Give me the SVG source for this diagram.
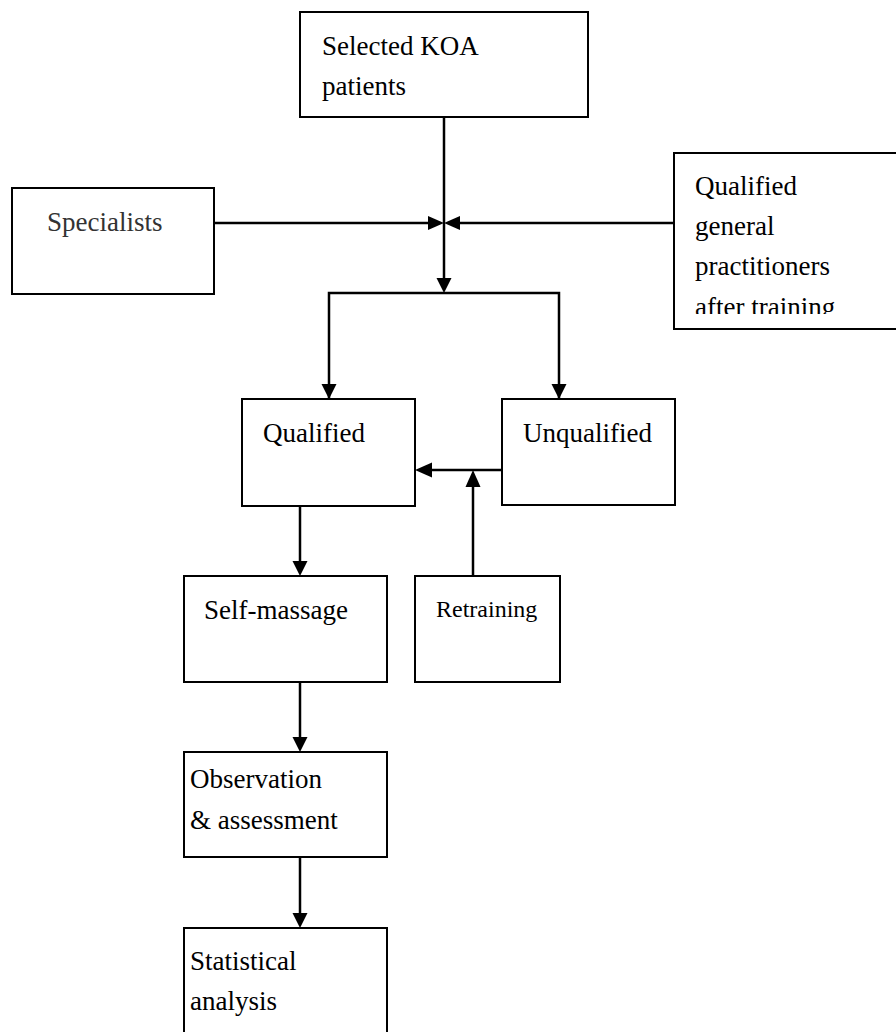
<svg xmlns="http://www.w3.org/2000/svg" width="896" height="1032" viewBox="0 0 896 1032">
<style>
.box{fill:#fff;stroke:#000;stroke-width:2}
.t{font-family:"Liberation Serif","Times New Roman",serif;font-size:27px;fill:#000}
.ln{stroke:#000;stroke-width:2.5;fill:none}
.ah{fill:#000}
</style>
<defs>
<clipPath id="clipGP"><rect x="674" y="153" width="230" height="161"/></clipPath>
</defs>
<rect width="896" height="1032" fill="#fff"/>
<g id="connectors">
<line class="ln" x1="444" y1="117" x2="444" y2="280"/>
<line class="ln" x1="214" y1="223" x2="430" y2="223"/>
<line class="ln" x1="674" y1="223" x2="458" y2="223"/>
<polygon class="ah" points="444,223 428,216 428,230"/>
<polygon class="ah" points="444,223 460,216 460,230"/>
<polygon class="ah" points="444,293 436.5,278 451.5,278"/>
<polyline class="ln" points="329,399 329,293 559,293 559,399"/>
<polygon class="ah" points="329,399 321.5,384 336.5,384"/>
<polygon class="ah" points="559,399 551.5,384 566.5,384"/>
<line class="ln" x1="502" y1="470" x2="430" y2="470"/>
<polygon class="ah" points="415,470 432,462.5 432,477.5"/>
<line class="ln" x1="473" y1="576" x2="473" y2="485"/>
<polygon class="ah" points="473,470 465.5,487 480.5,487"/>
<line class="ln" x1="300" y1="506" x2="300" y2="562"/>
<polygon class="ah" points="300,576 292.5,561 307.5,561"/>
<line class="ln" x1="300" y1="682" x2="300" y2="738"/>
<polygon class="ah" points="300,752 292.5,737 307.5,737"/>
<line class="ln" x1="300" y1="857" x2="300" y2="914"/>
<polygon class="ah" points="300,928 292.5,913 307.5,913"/>
</g>
<g id="koa">
<rect class="box" x="300" y="12" width="288" height="105"/>
<text class="t" x="322" y="55">Selected KOA</text>
<text class="t" x="322" y="95">patients</text>
</g>
<g id="specialists">
<rect class="box" x="12" y="188" width="202" height="106"/>
<text class="t" x="47" y="231" fill="#333" style="fill:#333">Specialists</text>
</g>
<g id="gp">
<rect class="box" x="674" y="153" width="230" height="176"/>
<g clip-path="url(#clipGP)">
<text class="t" x="695" y="195">Qualified</text>
<text class="t" x="695" y="235">general</text>
<text class="t" x="695" y="275">practitioners</text>
<text class="t" x="695" y="316">after training</text>
</g>
</g>
<g id="qualified">
<rect class="box" x="242" y="399" width="173" height="107"/>
<text class="t" x="263" y="442">Qualified</text>
</g>
<g id="unqualified">
<rect class="box" x="502" y="399" width="173" height="106"/>
<text class="t" x="523" y="442">Unqualified</text>
</g>
<g id="selfmassage">
<rect class="box" x="184" y="576" width="203" height="106"/>
<text class="t" x="204" y="619">Self-massage</text>
</g>
<g id="retraining">
<rect class="box" x="415" y="576" width="145" height="106"/>
<text class="t" x="436" y="617" style="font-size:24px">Retraining</text>
</g>
<g id="observation">
<rect class="box" x="184" y="752" width="203" height="105"/>
<text class="t" x="190" y="788">Observation</text>
<text class="t" x="190" y="829">&amp; assessment</text>
</g>
<g id="statistical">
<rect class="box" x="184" y="928" width="203" height="120"/>
<text class="t" x="190" y="970">Statistical</text>
<text class="t" x="190" y="1010">analysis</text>
</g>
</svg>
